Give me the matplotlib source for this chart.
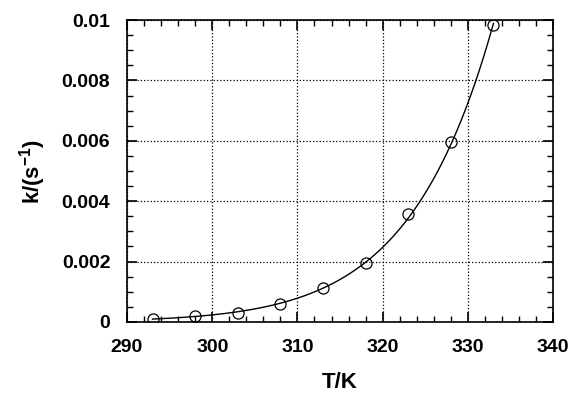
import numpy as np
import matplotlib
matplotlib.use("Agg")
import matplotlib.pyplot as plt
from matplotlib.ticker import MultipleLocator

T = [293, 298, 303, 308, 313, 318, 323, 328, 333]
k = [0.00010, 0.00018, 0.00031, 0.00060, 0.00112, 0.00196, 0.00358, 0.00597, 0.00983]
xticks = [290, 300, 310, 320, 330, 340]
yticks = [0, 0.002, 0.004, 0.006, 0.008, 0.01]
yticklabels = ["0", "0.002", "0.004", "0.006", "0.008", "0.01"]

plt.rcParams['font.family'] = ['Liberation Sans', 'DejaVu Sans']
plt.rcParams['font.weight'] = 'bold'
plt.rcParams['mathtext.fontset'] = 'custom'
plt.rcParams['mathtext.rm'] = 'Liberation Sans:bold'
plt.rcParams['mathtext.bf'] = 'Liberation Sans:bold'

fig = plt.figure(figsize=(5.72, 3.94), dpi=100)
ax = fig.add_axes([0.222, 0.183, 0.745, 0.766])

# Arrhenius fit from the data points
Ta = np.array(T, float)
ka = np.array(k, float)
p = np.polyfit(1.0 / Ta, np.log(ka), 1)
Tf = np.linspace(Ta.min(), Ta.max(), 300)
ax.plot(Tf, np.exp(np.polyval(p, 1.0 / Tf)), color='black', lw=1.0)
ax.plot(T, k, 'o', mfc='none', mec='black', ms=8, mew=0.9)

ax.set_xlim(290, 340)
ax.set_ylim(0, 0.01)
ax.set_xticks(xticks)
ax.set_yticks(yticks)
ax.set_yticklabels(yticklabels)
ax.xaxis.set_minor_locator(MultipleLocator(2))
ax.yaxis.set_minor_locator(MultipleLocator(0.0005))
ax.tick_params(which='both', direction='in', top=True, right=True, labelsize=14)
ax.tick_params(which='major', length=7, width=1.2)
ax.tick_params(axis='x', which='major', pad=12)
ax.tick_params(axis='y', which='major', pad=12)
ax.tick_params(which='minor', length=4, width=1.0)
ax.grid(True, which='major', linestyle=':', color='black', lw=0.9)
for s in ax.spines.values():
    s.set_linewidth(1.2)

ax.set_xlabel('T/K', fontsize=16, fontweight='bold', labelpad=12)
ax.set_ylabel('k/(s$^{-1}$)', fontsize=16, fontweight='bold', labelpad=10)

fig.savefig('out.png', dpi=100)
